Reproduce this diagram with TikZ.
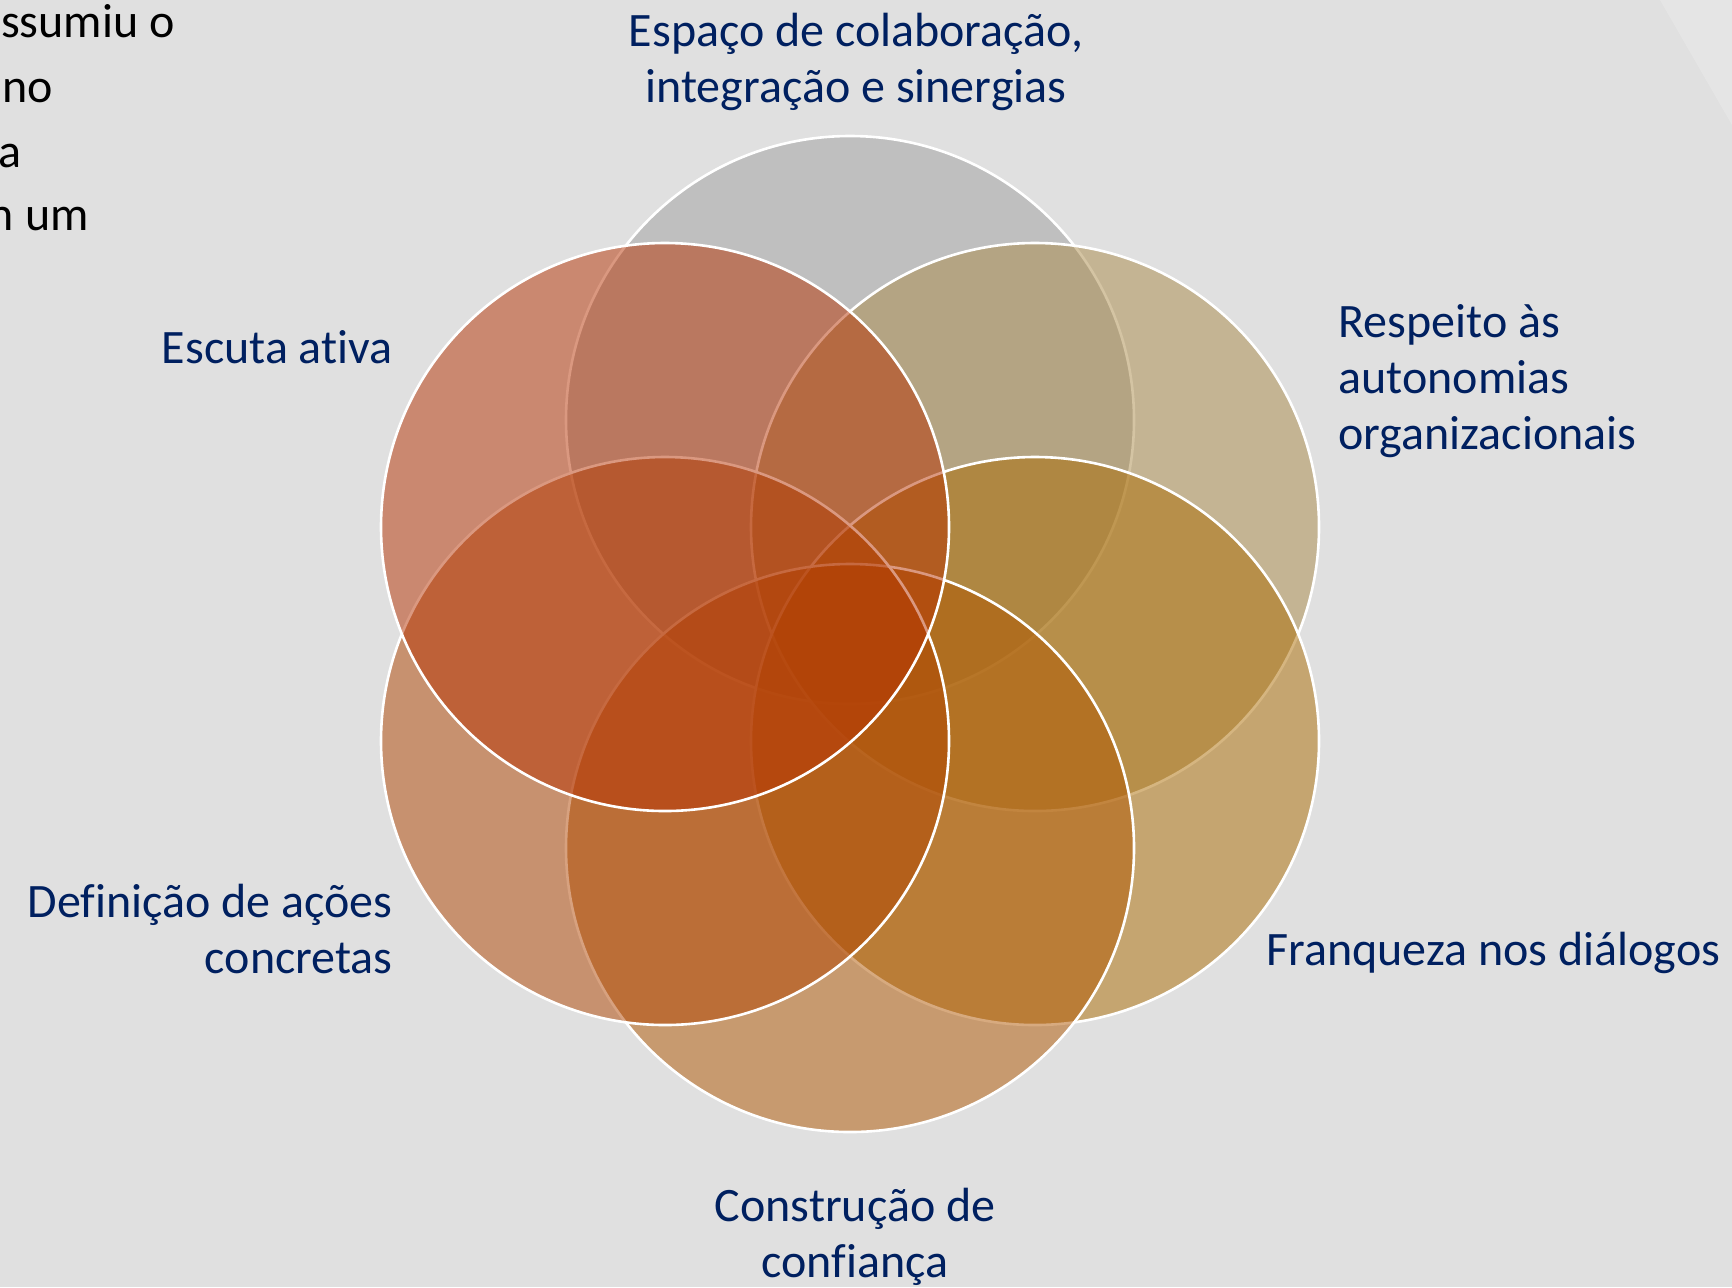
\documentclass[tikz,border=0pt]{standalone}
\usepackage{fontspec}
\setmainfont{Carlito}[Ligatures=NoCommon]
\usetikzlibrary{positioning}

\definecolor{fundo}{RGB}{224,224,224}
\definecolor{azul}{RGB}{0,32,96}
\definecolor{cinza}{RGB}{160,160,160}
\definecolor{areia}{RGB}{170,138,72}
\definecolor{ouro}{RGB}{172,108,2}
\definecolor{caramelo}{RGB}{176,86,0}
\definecolor{laranja}{RGB}{176,68,0}
\definecolor{ferrugem}{RGB}{182,50,2}

\begin{document}
\begin{tikzpicture}[
    x=0.5pt, y=-0.5pt,
    circulo/.style={circle, draw=white, line width=1.3pt, fill opacity=0.5,
                    minimum size=284pt, inner sep=0pt},
    rotulo/.style={font=\fontsize{24}{28}\selectfont, text=azul, inner sep=0pt},
    resto/.style={font=\fontsize{24}{32}\selectfont, text=black, inner sep=0pt,
                  anchor=base east}
]

% Fundo do slide
\useasboundingbox (0,0) rectangle (1732,1287);
\fill[fundo] (0,0) rectangle (1732,1287);
\fill[white, opacity=0.18] (1660,0) -- (1732,0) -- (1732,125) -- cycle;

% Texto cortado do slide
\node[resto] (r1) at (175,37) {assumiu o};
\node[resto] (r2) at (53,102) {no};
\node[resto] (r3) at (22,167) {a};
\node[resto] (r4) at (89,230) {em um};

% Circulos (sentido horario, a partir do topo)
\node[circulo, fill=cinza] (espaco) at (850,420) {};
\node[circulo, fill=areia] (respeito) at (1035,527) {};
\node[circulo, fill=ouro] (franqueza) at (1035,741) {};
\node[circulo, fill=caramelo] (confianca) at (850,848) {};
\node[circulo, fill=laranja] (acoes) at (665,741) {};
\node[circulo, fill=ferrugem] (escuta) at (665,527) {};

% Rotulos (ancora na linha de base da ultima linha)
\node[rotulo, align=center, anchor=base] (tespaco) at (856,102)
    {Espaço de colaboração,\\integração e sinergias};
\node[rotulo, align=left, anchor=base west] (trespeito) at (1338,449)
    {Respeito às\\autonomias\\organizacionais};
\node[rotulo, anchor=base west] (tfranqueza) at (1266,965) {Franqueza nos diálogos};
\node[rotulo, align=center, anchor=base] (tconfianca) at (855,1277)
    {Construção de\\confiança};
\node[rotulo, align=right, anchor=base east] (tacoes) at (393,973)
    {Definição de ações\\concretas};
\node[rotulo, anchor=base east] (tescuta) at (393,363) {Escuta ativa};

\end{tikzpicture}
\end{document}
